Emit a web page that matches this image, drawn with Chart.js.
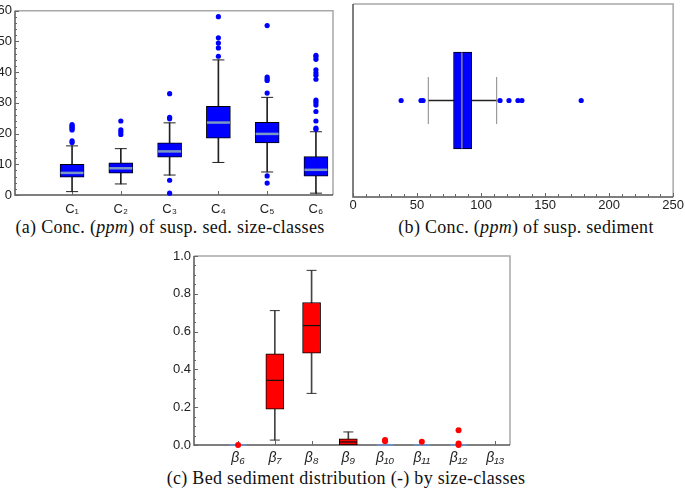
<!DOCTYPE html>
<html lang="en">
<head>
<meta charset="UTF-8">
<title>Sediment box plots</title>
<script src="https://cdn.jsdelivr.net/npm/chart.js@4"></script>
<style>
  body { margin: 0; background: #fff; width: 685px; height: 490px; position: relative; overflow: hidden; }
  canvas { position: absolute; }
  .cap { position: absolute; font-family: 'Liberation Serif', serif; font-size: 18px; letter-spacing: 0.3px; color: #111; white-space: nowrap; transform: translateX(-50%); }
</style>
</head>
<body>
<canvas id="chartA" width="340" height="217" style="left:0;top:0"></canvas>
<canvas id="chartB" width="345" height="217" style="left:340px;top:0"></canvas>
<canvas id="chartC" width="360" height="222" style="left:160px;top:245px"></canvas>
<div class="cap" style="left:170px;top:217px">(a) Conc. (<i>ppm</i>) of susp. sed. size-classes</div>
<div class="cap" style="left:526px;top:217px">(b) Conc. (<i>ppm</i>) of susp. sediment</div>
<div class="cap" style="left:346px;top:468px">(c) Bed sediment distribution (-) by size-classes</div>
<script>
// (a) suspended sediment size classes
const cNames = ['C₁', 'C₂', 'C₃', 'C₄', 'C₅', 'C₆'];
const cPos = [1, 2, 3, 4, 5, 6];
const cQ1 = [5.8, 7.1, 12.3, 18.5, 17.0, 6.1];
const cMed = [7.2, 8.7, 14.2, 23.6, 19.9, 8.2];
const cQ3 = [10.0, 10.5, 17.0, 28.9, 23.7, 12.5];
const cLo = [1.1, 3.6, 6.5, 10.6, 7.5, 0.6];
const cHi = [16.0, 15.1, 23.5, 44.0, 31.8, 20.6];
const cOut = [
  [17.1, 17.6, 21.2, 21.6, 22.1, 22.5, 22.9],
  [19.7, 20.5, 21.2, 24.1],
  [0.6, 4.8, 24.8, 25.3, 33.0],
  [45.2, 47.9, 49.5, 51.2, 58.1],
  [3.9, 6.2, 33.2, 37.3, 37.8, 38.4, 55.2],
  [21.4, 21.8, 24.1, 27.2, 29.3, 30.1, 30.9, 37.7, 39.0, 39.8, 40.8, 44.2, 45.0, 45.5]
];
const cTicks = [0, 10, 20, 30, 40, 50, 60];

// (b) total suspended sediment
const sPos = [0];
const sQ1 = [78.5];
const sMed = [85.0];
const sQ3 = [92.7];
const sLo = [58.8];
const sHi = [112.2];
const sOut = [[37.6, 53.1, 54.7, 114.8, 121.8, 128.8, 131.9, 178.2]];
const sTicks = [0, 50, 100, 150, 200, 250];

// (c) bed sediment distribution
const bNames = ['β₆', 'β₇', 'β₈', 'β₉', 'β₁₀', 'β₁₁', 'β₁₂', 'β₁₃'];
const bPos = [6, 7, 8, 9, 10, 11, 12, 13];
const bQ1 = [0, 0.190, 0.486, 0, 0, 0, 0, null];
const bMed = [0, 0.342, 0.632, 0.016, 0, 0, 0, null];
const bQ3 = [0, 0.482, 0.754, 0.032, 0, 0, 0, null];
const bLo = [0, 0.026, 0.273, 0, 0, 0, 0, null];
const bHi = [0, 0.711, 0.924, 0.069, 0, 0, 0, null];
const bOut = [[0.0], [], [], [], [0.020, 0.026], [0.017], [0.0, 0.008, 0.078], []];
const bTicks = [0, 0.2, 0.4, 0.6, 0.8, 1.0];

// frame + inward tick marks, Mathematica style (drawn under the boxes)
const framePlugin = {
  id: 'frame',
  beforeDatasetsDraw(chart, args, opts) {
    const { ctx, chartArea: a } = chart;
    ctx.save();
    ctx.lineWidth = 1.5;
    ctx.strokeStyle = '#a8a8a8';
    ctx.beginPath();
    ctx.moveTo(a.left, a.top); ctx.lineTo(a.right, a.top); ctx.lineTo(a.right, a.bottom);
    ctx.stroke();
    ctx.strokeStyle = '#555';
    ctx.beginPath();
    ctx.moveTo(a.left, a.top); ctx.lineTo(a.left, a.bottom); ctx.lineTo(a.right, a.bottom);
    ctx.stroke();
    ctx.lineWidth = 1;
    ctx.strokeStyle = '#666';
    (opts.marks || []).forEach(m => {
      const sc = chart.scales[m.axis];
      const n = Math.round((sc.max - m.from) / m.step);
      for (let i = 0; i <= n; i++) {
        const v = m.from + i * m.step;
        if (v < sc.min - 1e-9 || v > sc.max + 1e-9) continue;
        const p = Math.round(sc.getPixelForValue(v)) + 0.5;
        ctx.beginPath();
        if (m.axis === 'x') { ctx.moveTo(p, a.bottom); ctx.lineTo(p, a.bottom - m.len); }
        else { ctx.moveTo(a.left, p); ctx.lineTo(a.left + m.len, p); }
        ctx.stroke();
      }
    });
    ctx.restore();
  }
};

function boxSets(pos, q1, med, q3, lo, hi, out, st) {
  const idx = pos.map((p, i) => i).filter(i => q1[i] !== null);
  const horiz = st.horizontal;
  const pt = (p, v) => horiz ? { x: v, y: p } : { x: p, y: v };
  const flat = i => !(q3[i] - q1[i] > 0);
  const caps = [];
  idx.forEach(i => {
    if (lo[i] < q1[i]) caps.push(pt(pos[i], lo[i]));
    if (hi[i] > q3[i]) caps.push(pt(pos[i], hi[i]));
  });
  const outs = [];
  idx.forEach(i => out[i].forEach(v => outs.push(pt(pos[i], v))));
  out.forEach((o, i) => { if (q1[i] === null) o.forEach(v => outs.push(pt(pos[i], v))); });
  return [
    {
      type: 'bar', order: 5, grouped: false, indexAxis: horiz ? 'y' : 'x',
      data: idx.map(i => pt(pos[i], [lo[i], hi[i]])),
      backgroundColor: st.whisker, barThickness: 1, borderWidth: 0
    },
    {
      type: 'bar', order: 4, grouped: false, indexAxis: horiz ? 'y' : 'x',
      data: idx.map(i => pt(pos[i], [q1[i], q3[i]])),
      backgroundColor: st.fill, borderColor: '#000', borderWidth: 1,
      borderSkipped: false, barThickness: st.boxW
    },
    {
      type: 'scatter', order: 3, clip: false,
      data: idx.map(i => pt(pos[i], med[i])),
      pointStyle: 'line', pointRadius: st.boxW / 2 - 0.5,
      pointBorderWidth: idx.map(i => flat(i) ? 2 : st.medW),
      pointBorderColor: idx.map(i => flat(i) ? st.flat : st.median),
      pointRotation: horiz ? 90 : 0
    },
    {
      type: 'scatter', order: 2, clip: false,
      data: caps,
      pointStyle: 'line', pointRadius: st.capW / 2, pointBorderWidth: 1,
      pointBorderColor: st.cap, pointRotation: horiz ? 90 : 0
    },
    {
      type: 'scatter', order: 1, clip: false,
      data: outs,
      pointRadius: st.dot, pointBorderWidth: 0, pointBackgroundColor: st.fill
    }
  ];
}

const tickFont = { family: "'Liberation Sans', 'DejaVu Sans', sans-serif", size: 13 };
const common = {
  responsive: false, animation: false, devicePixelRatio: 1,
  plugins: { legend: { display: false }, tooltip: { enabled: false } },
  events: []
};

new Chart(document.getElementById('chartA'), {
  type: 'bar',
  data: {
    datasets: boxSets(cPos, cQ1, cMed, cQ3, cLo, cHi, cOut, {
      fill: '#0000ff', whisker: '#222', median: '#7b98c4', flat: '#7b98c4',
      cap: '#222', boxW: 24, capW: 12, medW: 2.5, dot: 2.6
    })
  },
  options: {
    ...common,
    layout: { autoPadding: false, padding: { left: 0, right: 7, top: 4, bottom: 0 } },
    plugins: {
      ...common.plugins,
      frame: { marks: [
        { axis: 'y', from: 0, step: 2, len: 2 },
        { axis: 'y', from: 0, step: 10, len: 4 },
        { axis: 'x', from: 1, step: 1, len: 4 }
      ] }
    },
    scales: {
      x: {
        type: 'linear', min: -0.17, max: 6.35, offset: false,
        grid: { display: false, drawTicks: false }, border: { display: false },
        afterBuildTicks: s => { s.ticks = cPos.map(v => ({ value: v })); },
        afterFit: s => { s.height = 22; },
        ticks: { autoSkip: false, maxRotation: 0, padding: 7, color: '#222', font: tickFont,
          callback: (v, i) => cNames[i] }
      },
      y: {
        type: 'linear', min: 0, max: 60, offset: false,
        grid: { display: false, drawTicks: false }, border: { display: false },
        afterBuildTicks: s => { s.ticks = cTicks.map(v => ({ value: v })); },
        afterFit: s => { s.width = 15; },
        ticks: { padding: 3, color: '#222', font: tickFont }
      }
    }
  },
  plugins: [framePlugin]
});

new Chart(document.getElementById('chartB'), {
  type: 'bar',
  data: {
    datasets: boxSets(sPos, sQ1, sMed, sQ3, sLo, sHi, sOut, {
      horizontal: true, fill: '#0000ff', whisker: '#222', median: '#888', flat: '#888',
      cap: '#888', boxW: 97, capW: 47, medW: 1.5, dot: 2.6
    })
  },
  options: {
    ...common,
    indexAxis: 'y',
    layout: { autoPadding: false, padding: { left: 13, right: 10, top: 4, bottom: 0 } },
    plugins: {
      ...common.plugins,
      frame: { marks: [
        { axis: 'x', from: 0, step: 10, len: 3 },
        { axis: 'x', from: 0, step: 50, len: 4 }
      ] }
    },
    scales: {
      x: {
        type: 'linear', min: 0, max: 250, offset: false,
        grid: { display: false, drawTicks: false }, border: { display: false },
        afterBuildTicks: s => { s.ticks = sTicks.map(v => ({ value: v })); },
        afterFit: s => { s.height = 20; },
        ticks: { autoSkip: false, maxRotation: 0, padding: 1, color: '#222', font: tickFont }
      },
      y: {
        type: 'linear', min: -1, max: 1, offset: false, display: false
      }
    }
  },
  plugins: [framePlugin]
});

new Chart(document.getElementById('chartC'), {
  type: 'bar',
  data: {
    datasets: boxSets(bPos, bQ1, bMed, bQ3, bLo, bHi, bOut, {
      fill: '#ff0000', whisker: '#444', median: '#111', flat: '#6f8fbf',
      cap: '#333', boxW: 18, capW: 10, medW: 1.2, dot: 3
    })
  },
  options: {
    ...common,
    layout: { autoPadding: false, padding: { left: 0, right: 10, top: 11, bottom: 0 } },
    plugins: {
      ...common.plugins,
      frame: { marks: [
        { axis: 'y', from: 0, step: 0.05, len: 2 },
        { axis: 'y', from: 0, step: 0.2, len: 4 },
        { axis: 'x', from: 6, step: 1, len: 4 }
      ] }
    },
    scales: {
      x: {
        type: 'linear', min: 4.8, max: 13.4, offset: false,
        grid: { display: false, drawTicks: false }, border: { display: false },
        afterBuildTicks: s => { s.ticks = bPos.map(v => ({ value: v })); },
        afterFit: s => { s.height = 22; },
        ticks: { autoSkip: false, maxRotation: 0, padding: 5, color: '#222',
          font: { ...tickFont, size: 14, style: 'italic' },
          callback: (v, i) => bNames[i] }
      },
      y: {
        type: 'linear', min: 0, max: 1, offset: false,
        grid: { display: false, drawTicks: false }, border: { display: false },
        afterBuildTicks: s => { s.ticks = bTicks.map(v => ({ value: v })); },
        afterFit: s => { s.width = 34; },
        ticks: { padding: 3, color: '#222', font: tickFont, callback: v => v.toFixed(1) }
      }
    }
  },
  plugins: [framePlugin]
});
</script>
</body>
</html>
